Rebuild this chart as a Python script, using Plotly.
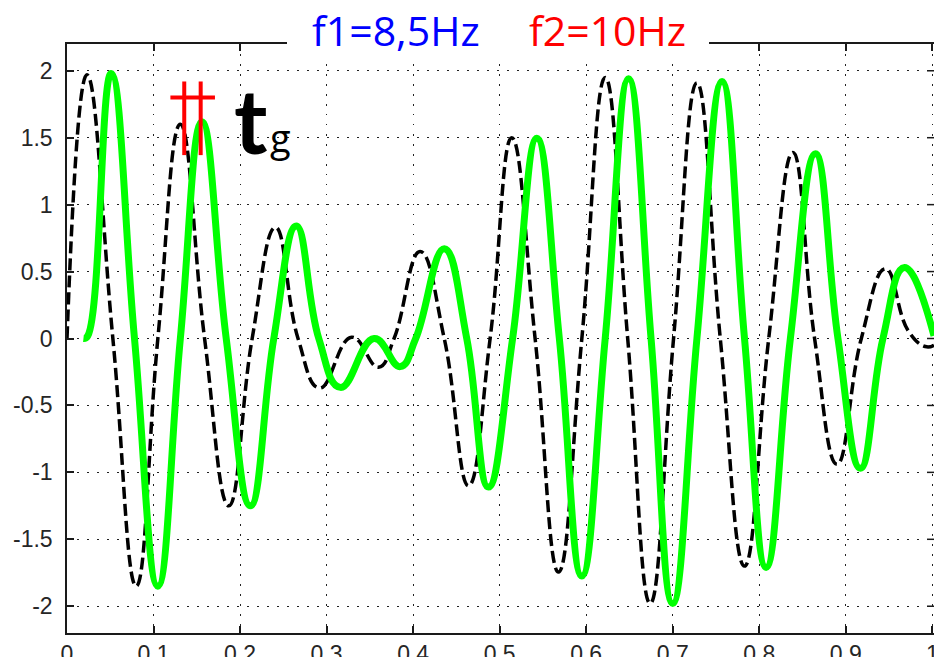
import plotly.graph_objects as go

# Superposition of two tones (dashed) and its delayed copy (green),
# traced through the peaks, troughs and zero crossings of each wave.
t_sum = [0.000, 0.023, 0.053, 0.080, 0.105, 0.131, 0.159, 0.187, 0.214,
         0.241, 0.267, 0.292, 0.329, 0.360, 0.378, 0.408, 0.436, 0.464,
         0.489, 0.514, 0.541, 0.568, 0.595, 0.622, 0.648, 0.674, 0.701,
         0.728, 0.755, 0.783, 0.811, 0.839, 0.864, 0.890, 0.918, 0.946,
         0.972, 0.992, 1.002]
y_sum = [0.00, 1.97, 0.00, -1.85, 0.00, 1.60, 0.00, -1.25, 0.00,
         0.83, 0.00, -0.37, 0.01, -0.215, 0.00, 0.65, 0.00, -1.10,
         0.00, 1.50, 0.00, -1.745, 0.00, 1.95, 0.00, -1.98, 0.00,
         1.91, 0.00, -1.70, 0.00, 1.39, 0.00, -0.94, 0.00, 0.52,
         0.06, -0.06, -0.05]

t_delay = [0.019, 0.024, 0.051, 0.078, 0.105, 0.131, 0.156, 0.184, 0.212,
           0.239, 0.265, 0.291, 0.316, 0.355, 0.385, 0.403, 0.436, 0.462,
           0.487, 0.515, 0.543, 0.569, 0.595, 0.622, 0.649, 0.675, 0.700,
           0.728, 0.757, 0.783, 0.808, 0.836, 0.865, 0.891, 0.917, 0.943,
           0.968, 1.002]
y_delay = [0.00, 0.02, 1.98, 0.00, -1.85, 0.00, 1.62, 0.00, -1.25,
           0.00, 0.84, 0.00, -0.365, 0.00, -0.21, 0.00, 0.67, 0.00,
           -1.11, 0.00, 1.495, 0.00, -1.775, 0.00, 1.94, 0.00, -1.98,
           0.00, 1.92, 0.00, -1.71, 0.00, 1.38, 0.00, -0.97, 0.00,
           0.53, 0.02]

x_ticks = [0, 0.1, 0.2, 0.3, 0.4, 0.5, 0.6, 0.7, 0.8, 0.9, 1.0]
x_tick_text = ["0", "0.1", "0.2", "0.3", "0.4", "0.5", "0.6", "0.7", "0.8", "0.9", "1"]
y_ticks = [-2, -1.5, -1, -0.5, 0, 0.5, 1, 1.5, 2]
y_tick_text = ["-2", "-1.5", "-1", "-0.5", "0", "0.5", "1", "1.5", "2"]

f1_label = "f1=8,5Hz"
f2_label = "f2=10Hz"

# group-delay marker: two red posts with a crossbar
post_x = [0.1355, 0.1545]
post_y = [1.37, 1.92]
bar_x = [0.1195, 0.171]
bar_y = 1.80

W, H = 934, 657
ML, MR, MT, MB = 67, 0, 44, 24
PW, PH = W - ML - MR, H - MT - MB


def px_x(px):
    return (px - ML) / PW


def px_y(py):
    return (H - MB - py) / PH


tick_font = dict(family="Liberation Sans, Arial, sans-serif", size=23, color="#262626")

fig = go.Figure()
fig.add_trace(go.Scatter(
    x=t_sum, y=y_sum, mode="lines",
    line=dict(color="black", width=3.5, dash="12px,5px", shape="spline", smoothing=1.3),
    showlegend=False, hoverinfo="skip"))
fig.add_trace(go.Scatter(
    x=t_delay, y=y_delay, mode="lines",
    line=dict(color="#00ff00", width=7, shape="spline", smoothing=1.3),
    showlegend=False, hoverinfo="skip"))

shapes = []
for xv in post_x:
    shapes.append(dict(type="line", xref="x", yref="y", x0=xv, x1=xv,
                       y0=post_y[0], y1=post_y[1],
                       line=dict(color="#ff0000", width=4), layer="above"))
shapes.append(dict(type="line", xref="x", yref="y", x0=bar_x[0], x1=bar_x[1],
                   y0=bar_y, y1=bar_y, line=dict(color="#ff0000", width=4), layer="above"))

# inward ticks along the right edge
for yv in y_ticks:
    shapes.append(dict(type="line", xref="paper", yref="y", x0=1.0, x1=1.0 - 7 / PW,
                       y0=yv, y1=yv, line=dict(color="#1a1a1a", width=1.5), layer="above"))

# white gap in the top frame behind the title
shapes.append(dict(type="rect", xref="paper", yref="paper",
                   x0=px_x(287), x1=px_x(709), y0=px_y(58), y1=px_y(0),
                   fillcolor="white", line=dict(width=0), layer="above"))

annotations = [
    dict(xref="paper", yref="paper", x=px_x(310), y=px_y(30), xanchor="left", yanchor="middle",
         text=f1_label, showarrow=False,
         font=dict(family="Open Sans, sans-serif", size=41, color="#0000ff")),
    dict(xref="paper", yref="paper", x=px_x(527), y=px_y(30), xanchor="left", yanchor="middle",
         text=f2_label, showarrow=False,
         font=dict(family="Open Sans, sans-serif", size=41, color="#ff0000")),
    dict(xref="paper", yref="paper", x=px_x(232), y=px_y(119), xanchor="left", yanchor="middle",
         text="<b>t</b>", showarrow=False,
         font=dict(family="Lato, sans-serif", size=90, color="black")),
    dict(xref="paper", yref="paper", x=px_x(268), y=px_y(137), xanchor="left", yanchor="middle",
         text="g", showarrow=False,
         font=dict(family="Open Sans, sans-serif", size=38, color="black")),
]

fig.update_layout(
    width=W, height=H,
    margin=dict(l=ML, r=MR, t=MT, b=MB, pad=0),
    paper_bgcolor="white", plot_bgcolor="white",
    shapes=shapes, annotations=annotations,
    xaxis=dict(range=[0, 1.002], tickvals=x_ticks, ticktext=x_tick_text,
               ticks="inside", ticklen=7, tickwidth=1.5, tickcolor="#1a1a1a",
               showline=True, linecolor="#1a1a1a", linewidth=1.5, mirror="ticks",
               showgrid=True, gridcolor="#222222", gridwidth=1.2, griddash="1.5px,8.5px",
               zeroline=False, tickfont=tick_font, ticklabelstandoff=0,
               ticklabeloverflow="allow", automargin=False),
    yaxis=dict(range=[-2.2, 2.2], tickvals=y_ticks, ticktext=y_tick_text,
               ticks="inside", ticklen=7, tickwidth=1.5, tickcolor="#1a1a1a",
               showline=True, linecolor="#1a1a1a", linewidth=1.5, mirror=False,
               showgrid=True, gridcolor="#222222", gridwidth=1.2, griddash="1.5px,8.5px",
               zeroline=False, tickfont=tick_font, ticklabelstandoff=8, automargin=False),
)

fig.write_html("out.html")
